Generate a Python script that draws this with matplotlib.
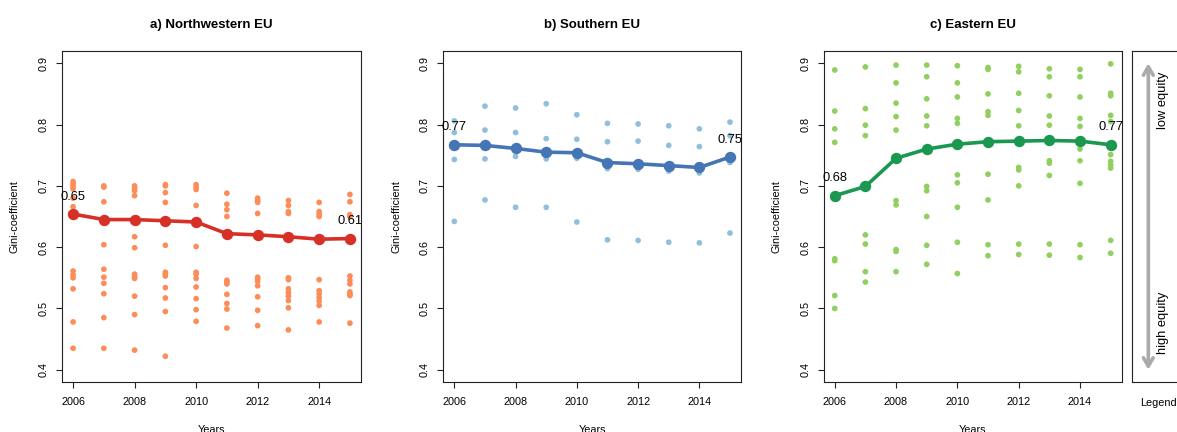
import matplotlib
matplotlib.use("Agg")
import matplotlib.pyplot as plt
from matplotlib.patches import FancyArrowPatch

plt.rcParams['font.family'] = ['Liberation Sans', 'DejaVu Sans']

W, H = 1177, 432

years = list(range(2006, 2016))

# Country-level Gini values per year (one list per year)
nw_points = [
    [0.707, 0.703, 0.699, 0.695, 0.680, 0.666, 0.561, 0.555, 0.550, 0.532, 0.478, 0.435],
    [0.700, 0.698, 0.674, 0.604, 0.564, 0.551, 0.541, 0.524, 0.485, 0.435],
    [0.700, 0.696, 0.692, 0.684, 0.617, 0.599, 0.556, 0.552, 0.549, 0.520, 0.490, 0.432],
    [0.702, 0.700, 0.689, 0.673, 0.603, 0.559, 0.556, 0.553, 0.534, 0.517, 0.495, 0.422],
    [0.702, 0.698, 0.694, 0.668, 0.601, 0.559, 0.556, 0.549, 0.535, 0.516, 0.498, 0.479],
    [0.688, 0.670, 0.661, 0.650, 0.546, 0.543, 0.540, 0.523, 0.508, 0.499, 0.468],
    [0.680, 0.676, 0.673, 0.655, 0.551, 0.548, 0.544, 0.537, 0.519, 0.497, 0.472],
    [0.676, 0.668, 0.658, 0.655, 0.550, 0.547, 0.532, 0.526, 0.520, 0.513, 0.501, 0.465],
    [0.673, 0.658, 0.654, 0.650, 0.547, 0.529, 0.524, 0.518, 0.512, 0.505, 0.478],
    [0.686, 0.674, 0.653, 0.650, 0.553, 0.546, 0.540, 0.527, 0.523, 0.521, 0.476],
]
nw_mean = [0.654, 0.645, 0.645, 0.643, 0.641, 0.622, 0.620, 0.617, 0.613, 0.614]

s_points = [
    [0.806, 0.787, 0.743, 0.642],
    [0.830, 0.791, 0.744, 0.677],
    [0.827, 0.787, 0.748, 0.665],
    [0.834, 0.777, 0.744, 0.665],
    [0.816, 0.776, 0.745, 0.641],
    [0.802, 0.772, 0.728, 0.612],
    [0.801, 0.773, 0.727, 0.611],
    [0.798, 0.766, 0.724, 0.608],
    [0.793, 0.764, 0.721, 0.607],
    [0.804, 0.782, 0.738, 0.623],
]
s_mean = [0.767, 0.766, 0.761, 0.755, 0.754, 0.738, 0.736, 0.733, 0.730, 0.747]

e_points = [
    [0.889, 0.822, 0.793, 0.771, 0.581, 0.578, 0.521, 0.500],
    [0.894, 0.826, 0.799, 0.782, 0.620, 0.605, 0.560, 0.543],
    [0.897, 0.868, 0.835, 0.813, 0.791, 0.676, 0.669, 0.596, 0.593, 0.560],
    [0.897, 0.878, 0.842, 0.814, 0.798, 0.699, 0.692, 0.650, 0.603, 0.572],
    [0.896, 0.868, 0.845, 0.810, 0.802, 0.718, 0.705, 0.665, 0.608, 0.557],
    [0.893, 0.890, 0.850, 0.821, 0.815, 0.719, 0.677, 0.604, 0.586],
    [0.895, 0.886, 0.851, 0.823, 0.798, 0.730, 0.726, 0.700, 0.605, 0.588],
    [0.891, 0.878, 0.847, 0.814, 0.799, 0.741, 0.737, 0.717, 0.605, 0.587],
    [0.890, 0.878, 0.845, 0.810, 0.797, 0.760, 0.741, 0.704, 0.604, 0.583],
    [0.899, 0.851, 0.847, 0.815, 0.805, 0.751, 0.740, 0.734, 0.729, 0.611, 0.590],
]
e_mean = [0.684, 0.699, 0.745, 0.760, 0.768, 0.772, 0.773, 0.774, 0.773, 0.767]

titles = ["a) Northwestern EU", "b) Southern EU", "c) Eastern EU"]
point_colors = ["#FC8D59", "#91BFDB", "#91CF60"]
line_colors = ["#D73027", "#4575B4", "#1A9850"]
yticks = [0.4, 0.5, 0.6, 0.7, 0.8, 0.9]
xticks = [2006, 2008, 2010, 2012, 2014]

fig = plt.figure(figsize=(W / 100, H / 100), dpi=100)


def px_axes(left, right, top=51, bottom=382):
    return fig.add_axes([left / W, (H - bottom) / H, (right - left) / W, (bottom - top) / H])


panel_lefts = [(62, 361), (443.3, 741), (823.7, 1121.7)]
groups = [(nw_points, nw_mean), (s_points, s_mean), (e_points, e_mean)]

for (left, right), (pts, mean), title, pc, lc in zip(panel_lefts, groups, titles,
                                                     point_colors, line_colors):
    ax = px_axes(left, right)
    xs = [yr for yr, vals in zip(years, pts) for _ in vals]
    ys = [v for vals in pts for v in vals]
    ax.scatter(xs, ys, s=17, color=pc, edgecolors='none', zorder=2)
    ax.plot(years, mean, color=lc, lw=2.6, marker='o', markersize=8.2,
            markeredgewidth=0, zorder=3)
    for i in (0, len(years) - 1):
        ax.annotate(f"{round(mean[i], 2):.2f}", (years[i], mean[i]),
                    xytext=(0, 12.5), textcoords='offset points',
                    ha='center', va='center', fontsize=9.3, zorder=4)
    ax.set_xlim(2005.64, 2015.36)
    ax.set_ylim(0.38, 0.92)
    ax.set_xticks(xticks)
    ax.set_xticklabels([str(t) for t in xticks])
    ax.set_yticks(yticks)
    ax.set_yticklabels([f"{t:.1f}" for t in yticks])
    ax.tick_params(axis='both', direction='out', length=4.5, width=0.8,
                   labelsize=7.8, color='#222222')
    ax.tick_params(axis='x', pad=6)
    ax.tick_params(axis='y', pad=5, labelrotation=90)
    for lab in ax.get_yticklabels():
        lab.set_va('center')
    for sp in ax.spines.values():
        sp.set_linewidth(0.8)
        sp.set_color('#222222')
    ax.set_title(title, fontsize=9.5, fontweight='bold', pad=0, y=1.0)
    ax.title.set_position((0.5, (H - 25 - (H - 382)) / 331))
    ax.title.set_va('center')
    fig.text((left - 47) / W, (H - 217) / H, "Gini-coefficient", rotation=90,
             ha='center', va='center', fontsize=7.8)
    fig.text((left + right) / 2 / W, (H - 425) / H, "Years",
             ha='center', va='top', fontsize=7.8)

# Legend panel: a double-headed arrow from high to low equity
lax = px_axes(1132.3, 1184)
lax.set_xlim(0, 1)
lax.set_ylim(0.38, 0.92)
lax.set_xticks([])
lax.set_yticks([])
for sp in lax.spines.values():
    sp.set_linewidth(0.8)
    sp.set_color('#222222')
arrow = FancyArrowPatch((0.31, 0.4), (0.31, 0.9), arrowstyle='<->,head_length=6,head_width=3.5',
                        color='#AAAAAA', lw=2.6, mutation_scale=1, shrinkA=0, shrinkB=0)
lax.add_patch(arrow)
lax.text(0.60, 0.839, "low equity", rotation=90, ha='center', va='center', fontsize=9.3)
lax.text(0.60, 0.477, "high equity", rotation=90, ha='center', va='center', fontsize=9.3)
fig.text(1158 / W, (H - 403) / H, "Legend", ha='center', va='center', fontsize=7.8)

fig.savefig("out.png", dpi=100)
